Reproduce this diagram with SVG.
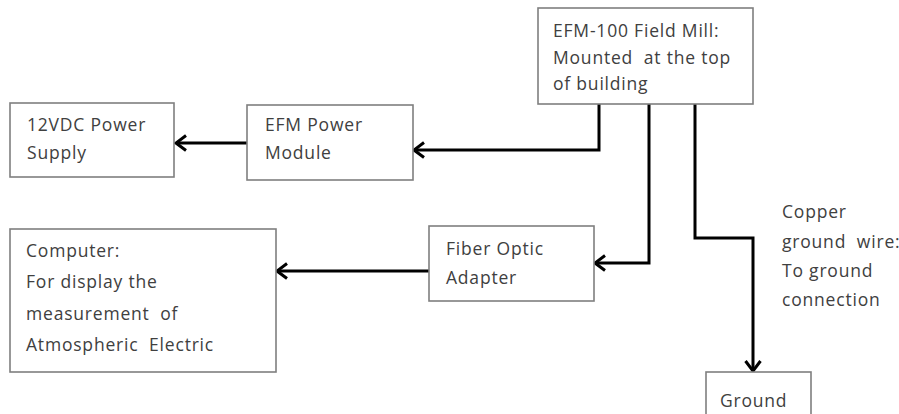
<svg xmlns="http://www.w3.org/2000/svg" width="899" height="414" viewBox="0 0 899 414">
<style>
.box{fill:#fff;stroke:#7f7f7f;stroke-width:1.6}
.t{font-family:"Open Sans","Liberation Sans",sans-serif;font-size:17.5px;letter-spacing:0.8px;fill:#404040;white-space:pre}
.c{fill:none;stroke:#000;stroke-width:3}
</style>
<defs>
<marker id="ah" viewBox="0 0 14 18" refX="12" refY="9" markerWidth="14" markerHeight="18" markerUnits="userSpaceOnUse" orient="auto">
<path d="M2,1.5 L12,9 L2,16.5" fill="none" stroke="#000" stroke-width="3"/>
</marker>
</defs>
<rect width="899" height="414" fill="#fff"/>
<g id="connectors">
<path class="c" d="M247,143 H176" marker-end="url(#ah)"/>
<path class="c" d="M599,104 V150 H414" marker-end="url(#ah)"/>
<path class="c" d="M649,104 V263 H595" marker-end="url(#ah)"/>
<path class="c" d="M429,271 H277" marker-end="url(#ah)"/>
<path class="c" d="M695,104 V238 H753 V371" marker-end="url(#ah)"/>
</g>
<g id="efm100">
<rect class="box" x="538" y="8" width="215" height="96"/>
<text class="t" x="553" y="37">EFM-100 Field Mill:</text>
<text class="t" x="553" y="64" xml:space="preserve">Mounted  at the top</text>
<text class="t" x="553" y="90">of building</text>
</g>
<g id="psu">
<rect class="box" x="10" y="103" width="164" height="74"/>
<text class="t" x="27" y="131">12VDC Power</text>
<text class="t" x="27" y="159">Supply</text>
</g>
<g id="efmpower">
<rect class="box" x="247" y="105" width="166" height="75"/>
<text class="t" x="265" y="131">EFM Power</text>
<text class="t" x="265" y="159">Module</text>
</g>
<g id="computer">
<rect class="box" x="10" y="229" width="266" height="143"/>
<text class="t" x="26" y="257">Computer:</text>
<text class="t" x="26" y="288">For display the</text>
<text class="t" x="26" y="320" xml:space="preserve">measurement  of</text>
<text class="t" x="26" y="351" xml:space="preserve">Atmospheric  Electric</text>
</g>
<g id="fiber">
<rect class="box" x="429" y="226" width="165" height="75"/>
<text class="t" x="446" y="255">Fiber Optic</text>
<text class="t" x="446" y="284">Adapter</text>
</g>
<g id="ground">
<rect class="box" x="706" y="372" width="105" height="60"/>
<text class="t" x="720" y="407">Ground</text>
</g>
<g id="wirelabel">
<text class="t" x="782" y="218">Copper</text>
<text class="t" x="782" y="248" xml:space="preserve">ground  wire:</text>
<text class="t" x="782" y="277">To ground</text>
<text class="t" x="782" y="306">connection</text>
</g>
</svg>
